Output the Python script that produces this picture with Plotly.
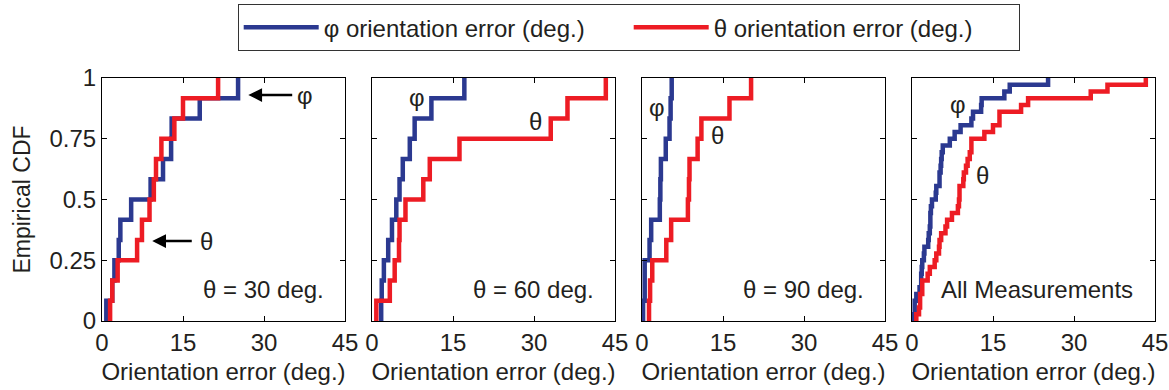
import numpy as np
import plotly.graph_objects as go

# ---- data (orientation errors, degrees) ----
phi_30 = [0.8, 1.9, 2.3, 3.1, 3.4, 5.4, 9.0, 11.3, 12.8, 12.9, 18.1, 25.2]
theta_30 = [1.5, 1.9, 2.9, 6.5, 7.4, 8.8, 9.6, 10.0, 11.0, 13.4, 15.0, 21.5]
phi_60 = [1.7, 1.8, 2.2, 3.0, 3.7, 4.5, 5.1, 5.7, 7.0, 7.9, 11.0, 17.1]
theta_60 = [0.8, 3.3, 4.2, 5.0, 5.1, 6.2, 9.5, 10.7, 16.2, 33.1, 36.2, 43.3]
phi_90 = [0.2, 0.5, 0.5, 1.4, 1.7, 3.3, 3.4, 3.5, 4.4, 5.1, 5.3, 5.5]
theta_90 = [1.3, 1.5, 1.9, 4.5, 5.4, 8.5, 8.7, 8.8, 10.3, 11.0, 16.2, 20.2]
phi_all = phi_30 + phi_60 + phi_90
theta_all = theta_30 + theta_60 + theta_90

panel_labels = ["θ = 30 deg.", "θ = 60 deg.", "θ = 90 deg.", "All Measurements"]
x_ticks = [0, 15, 30, 45]
y_ticks = [0, 0.25, 0.5, 0.75, 1]
y_ticktext = ["0", "0.25", "0.5", "0.75", "1"]

BLUE = "#2B3990"
RED = "#ED1C24"
TXT = "#231F20"
FONT = "Liberation Sans, Arial, sans-serif"


def ecdf(vals):
    s = np.sort(np.asarray(vals, dtype=float))
    n = len(s)
    x = np.concatenate([[s[0]], s])
    y = np.concatenate([[0.0], np.arange(1, n + 1) / n])
    return x, y


W, H = 1169, 390
lefts = [102, 372, 642, 912]
pw = 243
top, bottom = 78, 321

fig = go.Figure()
panels = [(phi_30, theta_30), (phi_60, theta_60), (phi_90, theta_90), (phi_all, theta_all)]
for i, (ph, th) in enumerate(panels):
    ax = "" if i == 0 else str(i + 1)
    for vals, col, name in [(ph, BLUE, "φ orientation error (deg.)"), (th, RED, "θ orientation error (deg.)")]:
        x, y = ecdf(vals)
        fig.add_trace(go.Scatter(
            x=x, y=y, mode="lines", line=dict(color=col, width=4.5, shape="hv"),
            name=name, showlegend=(i == 0), xaxis="x" + ax, yaxis="y" + ax,
            hoverinfo="skip"))
    l = lefts[i]
    fig.layout["xaxis" + ax] = dict(
        domain=[l / W, (l + pw) / W], range=[0, 45], tickvals=x_ticks,
        anchor="y" + ax, showline=True, linecolor="black", linewidth=1.2, mirror="ticks",
        ticks="inside", ticklen=5, tickcolor="black", showgrid=False, zeroline=False,
        tickfont=dict(size=24, color=TXT, family=FONT), automargin=False,
        title=dict(text="Orientation error (deg.)", font=dict(size=24, color=TXT, family=FONT), standoff=8),
        fixedrange=True)
    fig.layout["yaxis" + ax] = dict(
        domain=[(H - bottom) / H, (H - top) / H], range=[0, 1], tickvals=y_ticks,
        ticktext=y_ticktext, showticklabels=(i == 0), automargin=False,
        anchor="x" + ax, showline=True, linecolor="black", linewidth=1.2, mirror="ticks",
        ticks="inside", ticklen=5, tickcolor="black", showgrid=False, zeroline=False,
        tickfont=dict(size=24, color=TXT, family=FONT),
        title=dict(text="Empirical CDF" if i == 0 else "", font=dict(size=23, color=TXT, family=FONT), standoff=12),
        fixedrange=True)
    # panel label
    lx = 23.2 if i == 3 else 29.9
    fig.add_annotation(x=lx, y=0.13, xref="x" + ax, yref="y" + ax, text=panel_labels[i],
                       showarrow=False, font=dict(size=24, color=TXT, family=FONT))

# curve labels
def lab(txt, x, y, ax):
    fig.add_annotation(x=x, y=y, xref="x" + ax, yref="y" + ax, text=txt, showarrow=False,
                       font=dict(size=24, color=TXT, family=FONT))

lab("φ", 37.6, 0.93, "")
lab("θ", 19.3, 0.329, "")
lab("φ", 8.3, 0.918, "2")
lab("θ", 30.3, 0.82, "2")
lab("φ", 2.8, 0.877, "3")
lab("θ", 13.9, 0.765, "3")
lab("φ", 8.5, 0.889, "4")
lab("θ", 13.1, 0.60, "4")

# arrows in first panel
for (hx, tx, yy) in [(27.1, 35.5, 0.93), (9.3, 16.9, 0.329)]:
    fig.add_annotation(x=hx, y=yy, ax=tx, ay=yy, xref="x", yref="y", axref="x", ayref="y",
                       text="", showarrow=True, arrowhead=2, arrowsize=1.1, arrowwidth=2.5,
                       arrowcolor="black")

fig.update_layout(
    width=W, height=H, margin=dict(l=0, r=0, t=0, b=0, autoexpand=False),
    paper_bgcolor="white", plot_bgcolor="white",
    legend=dict(orientation="h", x=629 / W, xanchor="center", y=1 - 4 / H, yanchor="top",
                bordercolor="#333333", borderwidth=1.2, bgcolor="white",
                font=dict(size=24, color=TXT, family=FONT),
                itemwidth=75, entrywidth=300, entrywidthmode="pixels", tracegroupgap=0),
    showlegend=True,
)

fig.write_html("out.html", config={"displayModeBar": False},
               post_script="document.body.style.margin='0px';")
